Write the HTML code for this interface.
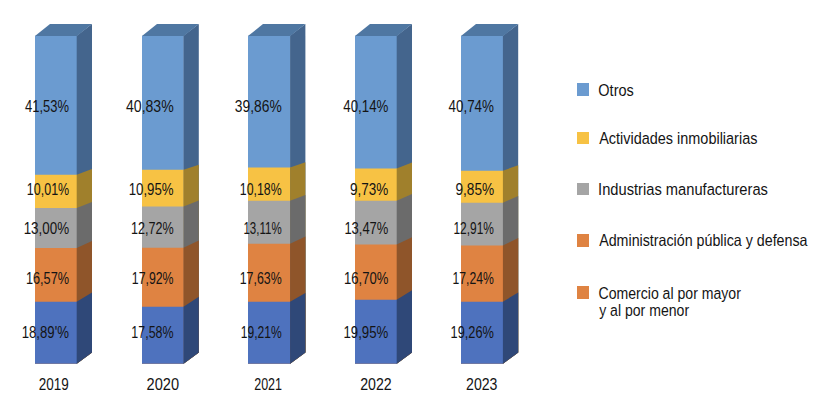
<!DOCTYPE html>
<html><head><meta charset="utf-8"><style>
html,body{margin:0;padding:0;background:#fff;width:830px;height:398px;overflow:hidden}
svg{display:block}
text{font-family:"Liberation Sans",sans-serif;font-size:16.7px;fill:#141414}
</style></head><body>
<svg width="830" height="398" viewBox="0 0 830 398">
<rect width="830" height="398" fill="#fff"/>
<polygon points="35.00,35.80 77.00,35.80 77.00,363.85 35.00,363.85" fill="#6B9BD0"/>
<polygon points="76.70,35.80 92.00,24.10 92.00,352.50 76.70,363.85" fill="#44658D"/>
<polygon points="35.00,174.75 77.00,174.75 77.00,363.85 35.00,363.85" fill="#F7C244"/>
<polygon points="76.70,174.75 92.00,169.00 92.00,352.50 76.70,363.85" fill="#A0802C"/>
<polygon points="35.00,207.90 77.00,207.90 77.00,363.85 35.00,363.85" fill="#A5A5A5"/>
<polygon points="76.70,207.90 92.00,201.90 92.00,352.50 76.70,363.85" fill="#6B6B6B"/>
<polygon points="35.00,247.90 77.00,247.90 77.00,363.85 35.00,363.85" fill="#DF8342"/>
<polygon points="76.70,247.90 92.00,241.00 92.00,352.50 76.70,363.85" fill="#8F552A"/>
<polygon points="35.00,301.80 77.00,301.80 77.00,363.85 35.00,363.85" fill="#4E72BE"/>
<polygon points="76.70,301.80 92.00,292.50 92.00,352.50 76.70,363.85" fill="#2F4878"/>
<polygon points="35.00,36.10 50.00,24.10 92.00,24.10 77.00,36.10" fill="#4F77A2"/>
<polygon points="142.00,35.80 183.80,35.80 183.80,363.85 142.00,363.85" fill="#6B9BD0"/>
<polygon points="183.50,35.80 198.80,24.10 198.80,352.50 183.50,363.85" fill="#44658D"/>
<polygon points="142.00,169.70 183.80,169.70 183.80,363.85 142.00,363.85" fill="#F7C244"/>
<polygon points="183.50,169.70 198.80,164.80 198.80,352.50 183.50,363.85" fill="#A0802C"/>
<polygon points="142.00,206.60 183.80,206.60 183.80,363.85 142.00,363.85" fill="#A5A5A5"/>
<polygon points="183.50,206.60 198.80,200.60 198.80,352.50 183.50,363.85" fill="#6B6B6B"/>
<polygon points="142.00,247.70 183.80,247.70 183.80,363.85 142.00,363.85" fill="#DF8342"/>
<polygon points="183.50,247.70 198.80,240.60 198.80,352.50 183.50,363.85" fill="#8F552A"/>
<polygon points="142.00,306.70 183.80,306.70 183.80,363.85 142.00,363.85" fill="#4E72BE"/>
<polygon points="183.50,306.70 198.80,296.70 198.80,352.50 183.50,363.85" fill="#2F4878"/>
<polygon points="142.00,36.10 157.00,24.10 198.80,24.10 183.80,36.10" fill="#4F77A2"/>
<polygon points="248.00,35.80 290.40,35.80 290.40,363.85 248.00,363.85" fill="#6B9BD0"/>
<polygon points="290.10,35.80 305.40,24.10 305.40,352.50 290.10,363.85" fill="#44658D"/>
<polygon points="248.00,167.40 290.40,167.40 290.40,363.85 248.00,363.85" fill="#F7C244"/>
<polygon points="290.10,167.40 305.40,162.20 305.40,352.50 290.10,363.85" fill="#A0802C"/>
<polygon points="248.00,200.70 290.40,200.70 290.40,363.85 248.00,363.85" fill="#A5A5A5"/>
<polygon points="290.10,200.70 305.40,194.90 305.40,352.50 290.10,363.85" fill="#6B6B6B"/>
<polygon points="248.00,243.70 290.40,243.70 290.40,363.85 248.00,363.85" fill="#DF8342"/>
<polygon points="290.10,243.70 305.40,236.50 305.40,352.50 290.10,363.85" fill="#8F552A"/>
<polygon points="248.00,301.70 290.40,301.70 290.40,363.85 248.00,363.85" fill="#4E72BE"/>
<polygon points="290.10,301.70 305.40,292.90 305.40,352.50 290.10,363.85" fill="#2F4878"/>
<polygon points="248.00,36.10 263.00,24.10 305.40,24.10 290.40,36.10" fill="#4F77A2"/>
<polygon points="355.00,35.80 397.00,35.80 397.00,363.85 355.00,363.85" fill="#6B9BD0"/>
<polygon points="396.70,35.80 412.00,24.10 412.00,352.50 396.70,363.85" fill="#44658D"/>
<polygon points="355.00,168.60 397.00,168.60 397.00,363.85 355.00,363.85" fill="#F7C244"/>
<polygon points="396.70,168.60 412.00,162.50 412.00,352.50 396.70,363.85" fill="#A0802C"/>
<polygon points="355.00,200.70 397.00,200.70 397.00,363.85 355.00,363.85" fill="#A5A5A5"/>
<polygon points="396.70,200.70 412.00,193.90 412.00,352.50 396.70,363.85" fill="#6B6B6B"/>
<polygon points="355.00,244.60 397.00,244.60 397.00,363.85 355.00,363.85" fill="#DF8342"/>
<polygon points="396.70,244.60 412.00,237.20 412.00,352.50 396.70,363.85" fill="#8F552A"/>
<polygon points="355.00,299.70 397.00,299.70 397.00,363.85 355.00,363.85" fill="#4E72BE"/>
<polygon points="396.70,299.70 412.00,290.20 412.00,352.50 396.70,363.85" fill="#2F4878"/>
<polygon points="355.00,36.10 370.00,24.10 412.00,24.10 397.00,36.10" fill="#4F77A2"/>
<polygon points="461.00,35.80 503.20,35.80 503.20,363.85 461.00,363.85" fill="#6B9BD0"/>
<polygon points="502.90,35.80 518.20,24.10 518.20,352.50 502.90,363.85" fill="#44658D"/>
<polygon points="461.00,170.70 503.20,170.70 503.20,363.85 461.00,363.85" fill="#F7C244"/>
<polygon points="502.90,170.70 518.20,165.20 518.20,352.50 502.90,363.85" fill="#A0802C"/>
<polygon points="461.00,202.70 503.20,202.70 503.20,363.85 461.00,363.85" fill="#A5A5A5"/>
<polygon points="502.90,202.70 518.20,195.90 518.20,352.50 502.90,363.85" fill="#6B6B6B"/>
<polygon points="461.00,245.50 503.20,245.50 503.20,363.85 461.00,363.85" fill="#DF8342"/>
<polygon points="502.90,245.50 518.20,238.00 518.20,352.50 502.90,363.85" fill="#8F552A"/>
<polygon points="461.00,301.70 503.20,301.70 503.20,363.85 461.00,363.85" fill="#4E72BE"/>
<polygon points="502.90,301.70 518.20,292.40 518.20,352.50 502.90,363.85" fill="#2F4878"/>
<polygon points="461.00,36.10 476.00,24.10 518.20,24.10 503.20,36.10" fill="#4F77A2"/>
<rect x="577" y="83" width="12" height="13" fill="#6B9BD0"/>
<rect x="577" y="132" width="12" height="12" fill="#F7C244"/>
<rect x="577" y="183" width="12" height="12" fill="#A5A5A5"/>
<rect x="577" y="234" width="12" height="13" fill="#DF8342"/>
<rect x="577" y="286" width="12" height="13" fill="#DF8342"/>
<text transform="translate(25.10,111.60) scale(0.7743,1)">41,53%</text>
<text transform="translate(26.80,194.90) scale(0.7494,1)">10,01%</text>
<text transform="translate(23.68,233.75) scale(0.8024,1)">13,00%</text>
<text transform="translate(25.93,283.85) scale(0.7622,1)">16,57%</text>
<text transform="translate(21.70,338.00) scale(0.7901,1)">18,89'%</text>
<text transform="translate(125.98,111.60) scale(0.8426,1)">40,83%</text>
<text transform="translate(128.69,194.90) scale(0.7941,1)">10,95%</text>
<text transform="translate(130.94,233.90) scale(0.7540,1)">12,72%</text>
<text transform="translate(131.81,283.60) scale(0.7385,1)">17,92%</text>
<text transform="translate(131.35,337.70) scale(0.7467,1)">17,58%</text>
<text transform="translate(234.87,111.60) scale(0.8284,1)">39,86%</text>
<text transform="translate(239.86,194.80) scale(0.7394,1)">10,18%</text>
<text transform="translate(243.47,233.75) scale(0.6901,1)">13,11%</text>
<text transform="translate(239.71,283.60) scale(0.7421,1)">17,63%</text>
<text transform="translate(240.78,337.70) scale(0.7229,1)">19,21%</text>
<text transform="translate(343.29,111.60) scale(0.7959,1)">40,14%</text>
<text transform="translate(350.06,194.90) scale(0.8091,1)">9,73%</text>
<text transform="translate(344.42,233.75) scale(0.7759,1)">13,47%</text>
<text transform="translate(344.01,283.60) scale(0.7832,1)">16,70%</text>
<text transform="translate(343.49,337.70) scale(0.7923,1)">19,95%</text>
<text transform="translate(448.59,111.60) scale(0.8013,1)">40,74%</text>
<text transform="translate(455.46,194.90) scale(0.8189,1)">9,85%</text>
<text transform="translate(453.44,233.75) scale(0.7147,1)">12,91%</text>
<text transform="translate(452.57,283.60) scale(0.7302,1)">17,24%</text>
<text transform="translate(450.53,337.70) scale(0.7668,1)">19,26%</text>
<text transform="translate(38.63,389.90) scale(0.8080,1)">2019</text>
<text transform="translate(146.57,389.90) scale(0.8751,1)">2020</text>
<text transform="translate(254.17,389.90) scale(0.7496,1)">2021</text>
<text transform="translate(360.19,389.90) scale(0.8486,1)">2022</text>
<text transform="translate(466.04,389.90) scale(0.8462,1)">2023</text>
<text transform="translate(598.32,95.90) scale(0.8696,1)">Otros</text>
<text transform="translate(599.17,143.90) scale(0.8660,1)">Actividades inmobiliarias</text>
<text transform="translate(598.05,194.70) scale(0.8809,1)">Industrias manufactureras</text>
<text transform="translate(599.17,246.30) scale(0.8541,1)">Administración pública y defensa</text>
<text transform="translate(598.48,298.70) scale(0.8434,1)">Comercio al por mayor</text>
<text transform="translate(599.16,316.10) scale(0.8429,1)">y al por menor</text>
</svg>
</body></html>
